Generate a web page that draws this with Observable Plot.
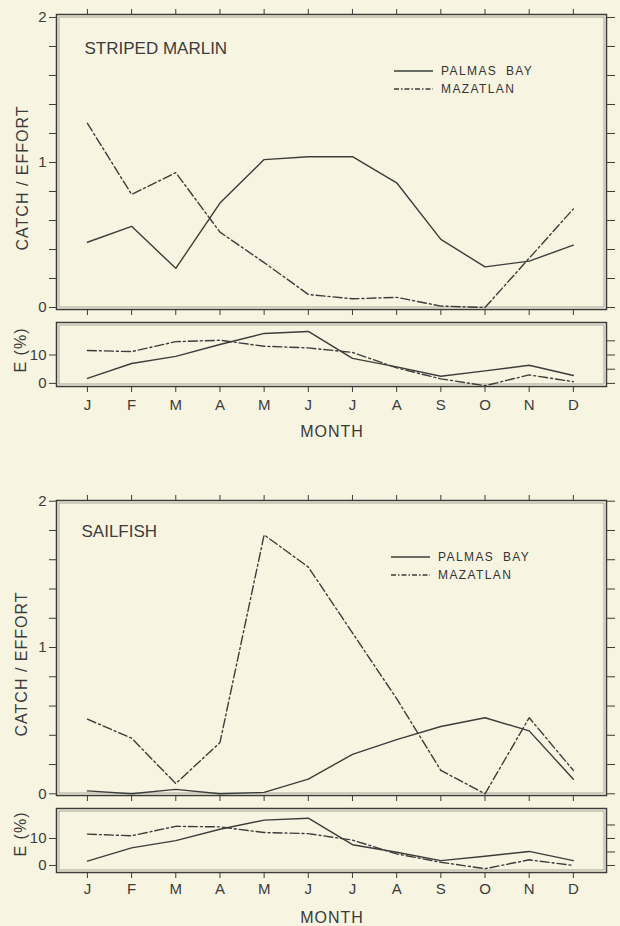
<!DOCTYPE html>
<html>
<head>
<meta charset="utf-8">
<script src="https://cdn.jsdelivr.net/npm/d3@7"></script>
<script src="https://cdn.jsdelivr.net/npm/@observablehq/plot@0.6"></script>
<style>
  html, body { margin: 0; padding: 0; background: #f7f5e1; }
  #page { position: relative; width: 620px; height: 926px; background: #f7f5e1; overflow: hidden;
          font-family: "Liberation Sans", Arial, sans-serif; color: #3a3a3a; }
  .panel { position: absolute; left: 0; }
  .lab { position: absolute; white-space: nowrap; font-size: 16px; letter-spacing: 1px; color: #3a3a3a; }
  .rot { transform: translate(-50%, -50%) rotate(-90deg); }
  .ctr { transform: translate(-50%, -50%); }
  .legend { position: absolute; font-size: 12px; letter-spacing: 1.4px; word-spacing: 4px; color: #333; }
  .legend .row { display: flex; align-items: center; height: 18px; }
  .legend svg { margin-right: 6px; }
</style>
</head>
<body>
<div id="page"></div>
<script>
// ---------- data ----------
const months = ["J","F","M","A","M","J","J","A","S","O","N","D"];
const monthNum = [1,2,3,4,5,6,7,8,9,10,11,12];
const seriesNames = ["PALMAS BAY", "MAZATLAN"];
const catchTicks = [0,0.2,0.4,0.6,0.8,1,1.2,1.4,1.6,1.8,2];
const catchLabels = [0,1,2];
const eTicksLeft = [0,10];
const eTicksRight = [0,5,10,15];

// Striped marlin, catch / effort
const marlinPalmas   = [0.45,0.56,0.27,0.72,1.02,1.04,1.04,0.86,0.47,0.28,0.32,0.43];
const marlinMazatlan = [1.27,0.78,0.93,0.52,0.31,0.09,0.06,0.07,0.01,0.00,0.34,0.68];
// Striped marlin, E (%)
const marlinEPalmas   = [1.8,7.0,9.5,13.7,17.6,18.3,8.8,5.8,2.5,4.4,6.4,2.8];
const marlinEMazatlan = [11.6,11.2,14.7,15.2,13.1,12.5,10.9,5.5,1.6,-0.8,3.0,0.6];
// Sailfish, catch / effort
const sailPalmas   = [0.02,0.00,0.03,0.00,0.01,0.10,0.27,0.37,0.46,0.52,0.43,0.10];
const sailMazatlan = [0.51,0.38,0.07,0.35,1.77,1.55,1.10,0.65,0.16,0.00,0.52,0.16];
// Sailfish, E (%)
const sailEPalmas   = [1.6,6.5,9.2,13.4,16.8,17.5,7.7,4.9,1.8,3.4,5.2,1.8];
const sailEMazatlan = [11.6,11.0,14.5,14.3,12.2,11.8,9.4,4.3,1.2,-1.2,2.1,0.0];

// ---------- styling ----------
const ink = "#3c3c3c";
const font = "Liberation Sans, Arial, sans-serif";
const xDomain = [0.3, 12.75];
const dash = "9,3,2,3";

function rowsOf(a, b) {
  return monthNum.map((m, i) => ({m, a: a[i], b: b[i]}));
}

function frames() {
  return [
    Plot.frame({stroke: ink, strokeWidth: 1.5}),
    Plot.frame({stroke: ink, strokeWidth: 0.7, strokeOpacity: 0.6, inset: 2.5})
  ];
}

function mainPanel(title, a, b, yDomain, titleDx, titleDy) {
  const rows = rowsOf(a, b);
  return Plot.plot({
    width: 620, height: 318,
    marginLeft: 56, marginRight: 14, marginTop: 14, marginBottom: 9,
    style: {background: "transparent", fontFamily: font, fontSize: "14px", color: ink},
    x: {domain: xDomain, axis: null},
    y: {domain: yDomain, axis: null},
    marks: [
      ...frames(),
      Plot.axisY({anchor: "left", ticks: catchTicks, tickSize: 7, tickPadding: 3, label: null,
        tickFormat: d => catchLabels.includes(d) ? String(d) : "", fontSize: 15}),
      Plot.axisY({anchor: "right", ticks: catchTicks, tickSize: 8, label: null, tickFormat: () => ""}),
      Plot.axisX({anchor: "top", ticks: monthNum, tickSize: 6, label: null, tickFormat: () => ""}),
      Plot.axisX({anchor: "bottom", ticks: monthNum, tickSize: 6, label: null, tickFormat: () => ""}),
      Plot.lineY(rows, {x: "m", y: "a", stroke: ink, strokeWidth: 1.4}),
      Plot.lineY(rows, {x: "m", y: "b", stroke: ink, strokeWidth: 1.4, strokeDasharray: dash}),
      Plot.text([title], {text: d => d, frameAnchor: "top-left", textAnchor: "start", lineAnchor: "top",
        dx: titleDx, dy: titleDy, fontSize: 17, fill: ink, style: "letter-spacing:1px"})
    ]
  });
}

function ePanel(a, b, yDomain, tickPadding) {
  const rows = rowsOf(a, b);
  return Plot.plot({
    width: 620, height: 98,
    marginLeft: 56, marginRight: 14, marginTop: 6, marginBottom: 28,
    style: {background: "transparent", fontFamily: font, fontSize: "15px", color: ink},
    x: {domain: xDomain, axis: null},
    y: {domain: yDomain, axis: null},
    marks: [
      ...frames(),
      Plot.axisY({anchor: "left", ticks: eTicksLeft, tickSize: 7, tickPadding: 3, label: null, fontSize: 15}),
      Plot.axisY({anchor: "right", ticks: eTicksRight, tickSize: 8, label: null, tickFormat: () => ""}),
      Plot.axisX({anchor: "bottom", ticks: monthNum, tickSize: 6, tickPadding: tickPadding, label: null,
        tickFormat: (d, i) => months[i], fontSize: 15}),
      Plot.lineY(rows, {x: "m", y: "a", stroke: ink, strokeWidth: 1.4}),
      Plot.lineY(rows, {x: "m", y: "b", stroke: ink, strokeWidth: 1.4, strokeDasharray: dash})
    ]
  });
}

const page = document.getElementById("page");

function place(node, top) {
  const d = document.createElement("div");
  d.className = "panel";
  d.style.top = top + "px";
  d.appendChild(node);
  page.appendChild(d);
}

function label(text, x, y, rotated) {
  const d = document.createElement("div");
  d.className = "lab " + (rotated ? "rot" : "ctr");
  d.style.left = x + "px";
  d.style.top = y + "px";
  d.textContent = text;
  page.appendChild(d);
}

function legend(x, y) {
  const d = document.createElement("div");
  d.className = "legend";
  d.style.left = x + "px";
  d.style.top = y + "px";
  seriesNames.forEach((name, i) => {
    const row = document.createElement("div");
    row.className = "row";
    const svg = d3.create("svg").attr("width", 42).attr("height", 18);
    svg.append("line").attr("x1", 1).attr("x2", 40).attr("y1", 9).attr("y2", 9)
      .attr("stroke", ink).attr("stroke-width", 1.4)
      .attr("stroke-dasharray", i === 0 ? null : "5,2,1.5,2");
    row.appendChild(svg.node());
    const span = document.createElement("span");
    span.textContent = name;
    row.appendChild(span);
    d.appendChild(row);
  });
  page.appendChild(d);
}

// Striped marlin
place(mainPanel("STRIPED MARLIN", marlinPalmas, marlinMazatlan, [-0.0137, 2.0205], 28, 27), 0);
place(ePanel(marlinEPalmas, marlinEMazatlan, [-1.09, 21.45], 7), 316);
label("CATCH / EFFORT", 23, 178, true);
label("E (%)", 21, 350, true);
label("MONTH", 332, 432, false);
legend(393, 62);

// Sailfish
place(mainPanel("SAILFISH", sailPalmas, sailMazatlan, [-0.0116, 2.005], 25, 24), 486);
place(ePanel(sailEPalmas, sailEMazatlan, [-2.6, 21.1], 5), 802);
label("CATCH / EFFORT", 22, 664, true);
label("E (%)", 21, 834, true);
label("MONTH", 332, 918, false);
legend(390, 548);
</script>
</body>
</html>
